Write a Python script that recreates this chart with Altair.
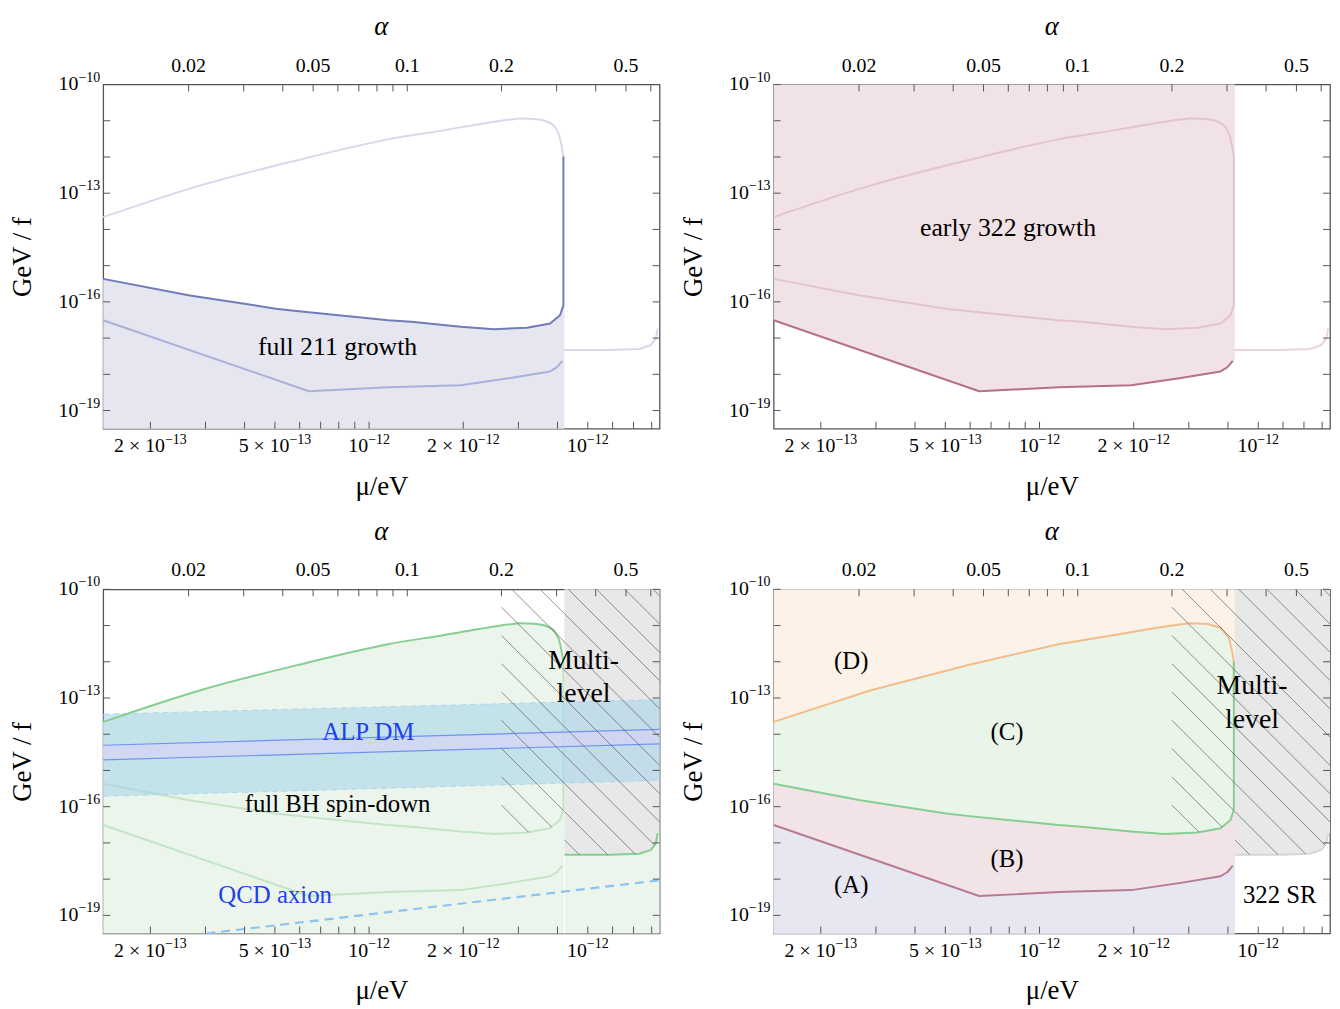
import numpy as np
import pandas as pd
import altair as alt

FONT = "Liberation Serif"
W, H = 561, 347
TICK = 7
FRAME = "#555555"
LABEL_SIZE = 20
EXP_SIZE = 14

# ---- axis ranges: x = log10(alpha), y = log10(GeV/f) ----
X_LEFT, X_RIGHT = -1.9718, -0.1937
Y_MIN, Y_MAX = -19.5, -10.0
X_BREAK = -0.4979            # end of the 211 segment
ALPHA_MULTI = 0.2            # multi-level hatching starts here
ALPHA_PER_MU = 0.0755        # alpha at mu = 1e-12 eV (left segment)
MU_RIGHT_FACTOR = 5.0        # right (322) segment mass rescaling

# ---- ticks / labels ----
alpha_ticks = [0.02, 0.03, 0.04, 0.05, 0.06, 0.07, 0.08, 0.09, 0.1, 0.2, 0.3, 0.4, 0.5, 0.6]
alpha_label_text = ["0.02", "0.05", "0.1", "0.2", "0.5"]
mu_left_ticks = [0.2, 0.3, 0.4, 0.5, 0.6, 0.7, 0.8, 0.9, 1.0, 2.0, 3.0, 4.0]
mu_left_label_vals = [0.2, 0.5, 1.0, 2.0]
mu_left_label_main = ["2 × 10", "5 × 10", "10", "2 × 10"]
mu_left_label_exp = ["−13", "−13", "−12", "−12"]
mu_right_ticks = [1.0, 1.2, 1.4, 1.6]
mu_right_label_vals = [1.0]
mu_right_label_main = ["10"]
mu_right_label_exp = ["−12"]
gf_ticks = [-10, -11, -12, -13, -14, -15, -16, -17, -18, -19]
gf_label_vals = [-10, -13, -16, -19]
gf_label_main = ["10", "10", "10", "10"]
gf_label_exp = ["−10", "−13", "−16", "−19"]

# ---- curves (log10 alpha, log10 GeV/f) ----
loop_upper_x = [-1.9718, -1.6634, -1.3464, -1.0612, -0.8815, -0.7759, -0.6704, -0.6387, -0.5857, -0.5436, -0.5170, -0.5065, -0.5011]
loop_upper_y = [-13.660, -12.792, -12.080, -11.514, -11.259, -11.103, -10.966, -10.939, -10.958, -11.059, -11.350, -11.716, -11.990]
loop_lower_x = [-0.5011, -0.5011, -0.5119, -0.5436, -0.6174, -0.7230, -0.8288, -0.9873, -1.0612, -1.3464, -1.4203, -1.6951, -1.9718]
loop_lower_y = [-11.990, -16.096, -16.370, -16.597, -16.715, -16.754, -16.688, -16.551, -16.507, -16.261, -16.187, -15.823, -15.365]
orange_ext_y = -13.05
curveB_x = [-1.9718, -1.3147, -1.0612, -0.8288, -0.6704, -0.5436, -0.5223, -0.5043]
curveB_y = [-16.507, -18.467, -18.358, -18.303, -18.103, -17.920, -17.810, -17.629]
curveC_x = [-0.4979, -0.3534, -0.2583, -0.2212, -0.2054, -0.2000]
curveC_y = [-17.328, -17.328, -17.301, -17.191, -17.008, -16.734]

alp_x = [-1.9718, -0.1937]
alp_outer_hi = [-13.447, -13.044]
alp_outer_lo = [-15.712, -15.274]
alp_inner_hi = [-14.304, -13.866]
alp_inner_lo = [-14.707, -14.268]
qcd_x = [-1.6422, -0.1937]
qcd_y = [-19.50, -18.033]

# ---- scales / axes (axes carry only the titles) ----
XSC = alt.Scale(domain=[X_LEFT, X_RIGHT], nice=False, zero=False)
YSC = alt.Scale(domain=[Y_MIN, Y_MAX], nice=False, zero=False)
PX_PER_X = W / (X_RIGHT - X_LEFT)
PX_PER_Y = H / (Y_MAX - Y_MIN)

AX_BOTTOM = alt.Axis(orient="bottom", title="μ/eV", labels=False, titlePadding=45)
AX_LEFT = alt.Axis(orient="left", title="GeV / f", labels=False, titlePadding=67)


def xq(field="x"):
    return alt.X(f"{field}:Q", scale=XSC, axis=AX_BOTTOM)


def yq(field="y"):
    return alt.Y(f"{field}:Q", scale=YSC, axis=AX_LEFT)


def df_xy(xs, ys):
    return pd.DataFrame({"x": list(xs), "y": list(ys), "i": list(range(len(xs)))})


def polygon(xs, ys, color, opacity=1.0):
    return alt.Chart(df_xy(xs, ys)).mark_line(
        filled=True, fill=color, fillOpacity=opacity, strokeWidth=0
    ).encode(x=xq(), y=yq(), order=alt.Order("i:Q"))


def curve(xs, ys, color, width=2.0, dash=None, opacity=1.0, interp="linear"):
    kw = dict(color=color, strokeWidth=width, opacity=opacity, strokeJoin="round",
              interpolate=interp)
    if dash:
        kw["strokeDash"] = dash
    return alt.Chart(df_xy(xs, ys)).mark_line(**kw).encode(
        x=xq(), y=yq(), order=alt.Order("i:Q"))


def band(xs, lo, hi, color, opacity):
    df = pd.DataFrame({"x": xs, "lo": lo, "hi": hi})
    return alt.Chart(df).mark_area(color=color, opacity=opacity).encode(
        x=xq(), y=yq("lo"), y2=alt.Y2("hi:Q"))


def texts(rows, color="black", size=26, font=FONT):
    df = pd.DataFrame(rows, columns=["x", "y", "t"])
    return alt.Chart(df).mark_text(font=font, fontSize=size, color=color,
                                   align="center", baseline="middle").encode(
        x=xq(), y=yq(), text="t:N")


# ---- hatching (45 degree lines) ----
K = PX_PER_X / PX_PER_Y
HATCH_PX = 28.5
HATCH_C0 = -18.873
DC = HATCH_PX / PX_PER_Y


def hatch_segments(x0, x1, low_x, low_y):
    xs = np.linspace(x0, x1, 3000)
    low = np.interp(xs, low_x, low_y)
    rows = []
    for n in range(-60, 61):
        c = HATCH_C0 + n * DC
        ys = c - K * xs
        m = (ys <= Y_MAX) & (ys >= low)
        idx = np.where(m)[0]
        if len(idx) < 2:
            continue
        rows.append((xs[idx[0]], ys[idx[0]], xs[idx[-1]], ys[idx[-1]]))
    return rows


def hatch_layer():
    lx = loop_lower_x[1:][::-1]
    ly = loop_lower_y[1:][::-1]
    rows = hatch_segments(np.log10(ALPHA_MULTI), X_BREAK, lx, ly)
    rows += hatch_segments(X_BREAK, X_RIGHT, curveC_x, curveC_y)
    df = pd.DataFrame(rows, columns=["x", "y", "x2", "y2"])
    return alt.Chart(df).mark_rule(color="#474747", strokeWidth=1, opacity=0.6).encode(
        x=xq(), y=yq(), x2="x2:Q", y2="y2:Q")


# ---- tick labels as text (base + raised exponent) ----
CHAR_EM = {" ": 0.25, "×": 0.564, "−": 0.564}


def text_w(s, size):
    return sum(CHAR_EM.get(c, 0.5) for c in s) * size


mu_pos = [float(v) for v in np.log10(ALPHA_PER_MU * np.array(mu_left_label_vals))] + \
    [float(v) for v in np.log10(ALPHA_PER_MU * MU_RIGHT_FACTOR * np.array(mu_right_label_vals))]
mu_main = mu_left_label_main + mu_right_label_main
mu_exp = mu_left_label_exp + mu_right_label_exp
mu_join = [p + (text_w(m, LABEL_SIZE) + text_w(e, EXP_SIZE)) / 2 / PX_PER_X
           - text_w(e, EXP_SIZE) / PX_PER_X for p, m, e in zip(mu_pos, mu_main, mu_exp)]
mu_label_df = pd.DataFrame({"x": mu_join, "main": mu_main, "exp": mu_exp})
gf_label_df = pd.DataFrame({"y": gf_label_vals, "main": gf_label_main, "exp": gf_label_exp})
alpha_label_df = pd.DataFrame({"x": [float(np.log10(float(s))) for s in alpha_label_text],
                               "t": alpha_label_text})
mu_tick_pos = list(np.log10(ALPHA_PER_MU * np.array(mu_left_ticks))) + \
    list(np.log10(ALPHA_PER_MU * MU_RIGHT_FACTOR * np.array(mu_right_ticks)))


def frame_layers():
    tick = dict(color=FRAME, strokeWidth=1)
    top = alt.Chart(pd.DataFrame({"x": np.log10(alpha_ticks)})).mark_rule(**tick).encode(
        x=xq(), y=alt.value(0), y2=alt.value(TICK))
    bottom = alt.Chart(pd.DataFrame({"x": mu_tick_pos})).mark_rule(**tick).encode(
        x=xq(), y=alt.value(H - TICK), y2=alt.value(H))
    left = alt.Chart(pd.DataFrame({"y": gf_ticks})).mark_rule(**tick).encode(
        y=yq(), x=alt.value(0), x2=alt.value(TICK))
    right = alt.Chart(pd.DataFrame({"y": gf_ticks})).mark_rule(**tick).encode(
        y=yq(), x=alt.value(W - TICK), x2=alt.value(W))
    lab = dict(font=FONT, color="black")
    top_labels = alt.Chart(alpha_label_df).mark_text(
        fontSize=LABEL_SIZE, align="center", baseline="middle", **lab).encode(
        x=xq(), y=alt.value(-19), text="t:N")
    top_title = alt.Chart(pd.DataFrame({"t": ["α"]})).mark_text(
        fontSize=27, fontStyle="italic", align="center", baseline="middle", **lab).encode(
        x=alt.value(W / 2), y=alt.value(-58), text="t:N")
    bot_main = alt.Chart(mu_label_df).mark_text(
        fontSize=LABEL_SIZE, align="right", baseline="middle", **lab).encode(
        x=xq(), y=alt.value(H + 18), text="main:N")
    bot_exp = alt.Chart(mu_label_df).mark_text(
        fontSize=EXP_SIZE, align="left", baseline="middle", **lab).encode(
        x=xq(), y=alt.value(H + 11), text="exp:N")
    left_main = alt.Chart(gf_label_df).mark_text(
        fontSize=LABEL_SIZE, align="right", baseline="middle", **lab).encode(
        y=yq(), x=alt.value(-25), text="main:N")
    left_exp = alt.Chart(gf_label_df).mark_text(
        fontSize=EXP_SIZE, align="left", baseline="middle", dy=-7, **lab).encode(
        y=yq(), x=alt.value(-25), text="exp:N")
    return [top, bottom, left, right, top_labels, top_title, bot_main, bot_exp,
            left_main, left_exp]


def panel(layers):
    return alt.layer(*layers, *frame_layers()).properties(width=W, height=H)


# polygons built from the curves
lower_lr_x = loop_lower_x[1:][::-1]
lower_lr_y = loop_lower_y[1:][::-1]

below_lower_x = [X_LEFT] + lower_lr_x + [X_BREAK, X_BREAK]
below_lower_y = [Y_MIN] + lower_lr_y + [lower_lr_y[-1], Y_MIN]

above_B_x = curveB_x + [X_BREAK, X_BREAK, X_LEFT]
above_B_y = curveB_y + [curveB_y[-1], Y_MAX, Y_MAX]

below_B_x = [X_LEFT] + curveB_x + [X_BREAK, X_BREAK]
below_B_y = [Y_MIN] + curveB_y + [curveB_y[-1], Y_MIN]

loop_x = loop_upper_x + loop_lower_x
loop_y = loop_upper_y + loop_lower_y

green_all_x = [X_LEFT] + loop_upper_x + [X_BREAK, X_BREAK] + curveC_x + [X_RIGHT, X_RIGHT]
green_all_y = [Y_MIN] + loop_upper_y + [loop_upper_y[-1], curveC_y[0]] + curveC_y + [curveC_y[-1], Y_MIN]

grey_x = [X_BREAK] + curveC_x + [X_RIGHT, X_RIGHT]
grey_y = [Y_MAX] + curveC_y + [curveC_y[-1], Y_MAX]

left_rect_x = [X_LEFT, X_LEFT, X_BREAK, X_BREAK]
left_rect_y = [Y_MIN, Y_MAX, Y_MAX, Y_MIN]

MONO = "monotone"

# ---------------- panel 1: full 211 growth ----------------
p1 = panel([
    polygon(below_lower_x, below_lower_y, "#E5E6F0"),
    curve(curveC_x, curveC_y, "#D6D9EB"),
    curve(loop_upper_x, loop_upper_y, "#D6D9EB", interp=MONO),
    curve(curveB_x, curveB_y, "#A9B1D9"),
    curve(loop_lower_x, loop_lower_y, "#6F7CB8"),
    texts([(-1.2228, -17.254, "full 211 growth")]),
])

# ---------------- panel 2: early 322 growth ----------------
p2 = panel([
    polygon(above_B_x, above_B_y, "#F1E2E6"),
    curve(curveC_x, curveC_y, "#EBD3DA"),
    curve(loop_upper_x, loop_upper_y, "#E3C3CD", interp=MONO),
    curve(loop_lower_x, loop_lower_y, "#E3C3CD"),
    curve(curveB_x, curveB_y, "#B57188"),
    texts([(-1.2228, -13.969, "early 322 growth")]),
])

# ---------------- panel 3: full BH spin-down ----------------
white_gap = alt.Chart(pd.DataFrame({"x": [X_BREAK], "y": [Y_MIN], "y2": [curveC_y[0]]})).mark_rule(
    color="white", strokeWidth=1).encode(x=xq(), y=yq(), y2="y2:Q")

p3 = panel([
    polygon(green_all_x, green_all_y, "#EBF5EB"),
    polygon(grey_x, grey_y, "#E8E8E8"),
    white_gap,
    curve(loop_lower_x, loop_lower_y, "#C3E5C7"),
    curve(curveB_x, curveB_y, "#C3E5C7"),
    band(alp_x, alp_outer_lo, alp_outer_hi, "#A4D2EA", 0.55),
    band(alp_x, alp_inner_lo, alp_inner_hi, "#D8D2F6", 0.6),
    curve(alp_x, alp_outer_hi, "#ADD4F2", width=1, dash=[6, 4]),
    curve(alp_x, alp_outer_lo, "#ADD4F2", width=1, dash=[6, 4]),
    curve(alp_x, alp_inner_hi, "#7193F5", width=1.2),
    curve(alp_x, alp_inner_lo, "#7193F5", width=1.2),
    curve(loop_upper_x, loop_upper_y, "#86CE91", interp=MONO),
    curve(curveC_x, curveC_y, "#86CE91"),
    curve(qcd_x, qcd_y, "#8DC2F2", width=2.2, dash=[9, 6]),
    hatch_layer(),
    texts([(-1.1246, -13.939, "ALP DM"), (-1.4223, -18.43, "QCD axion")], color="#1F3FF2", size=25),
    texts([(-1.2228, -15.938, "full BH spin-down")], size=25),
    texts([(-0.4366, -11.968, "Multi-"), (-0.4366, -12.899, "level")], size=28),
])

# ---------------- panel 4: regions (A)-(D) ----------------
p4 = panel([
    polygon(left_rect_x, left_rect_y, "#FCF2E8"),
    polygon(below_lower_x, below_lower_y, "#F2E3E7"),
    polygon(loop_x, loop_y, "#EAF5EA"),
    polygon(below_B_x, below_B_y, "#E6E7F1"),
    polygon(grey_x, grey_y, "#E8E8E8"),
    curve(curveC_x, curveC_y, "#D6D6D6"),
    curve(loop_upper_x + [loop_upper_x[-1]], loop_upper_y + [orange_ext_y], "#F3BD8A"),
    curve(loop_lower_x, loop_lower_y, "#86CE91"),
    curve(curveB_x, curveB_y, "#B87A92"),
    hatch_layer(),
    texts([(-1.7236, -11.968, "(D)"), (-1.2260, -13.939, "(C)"),
           (-1.2260, -17.443, "(B)"), (-1.7236, -18.155, "(A)"),
           (-0.3543, -18.43, "322 SR")], size=25),
    texts([(-0.4430, -12.683, "Multi-"), (-0.4430, -13.614, "level")], size=28),
])

HS = 17
VS = 17
chart = alt.vconcat(
    alt.hconcat(p1, p2, spacing=HS),
    alt.hconcat(p3, p4, spacing=HS),
    spacing=VS,
).properties(
    padding={"left": 0, "top": 0, "right": 0, "bottom": 0}
).configure_view(
    stroke=FRAME, strokeWidth=1.3
).configure_axis(
    labelFont=FONT, titleFont=FONT, labelFontSize=LABEL_SIZE, titleFontSize=27,
    labelColor="black", titleColor="black", titleFontWeight="normal",
    grid=False, domain=False, ticks=False, tickSize=0
)

chart.save("out.html", embed_options={"renderer": "svg", "actions": False})
